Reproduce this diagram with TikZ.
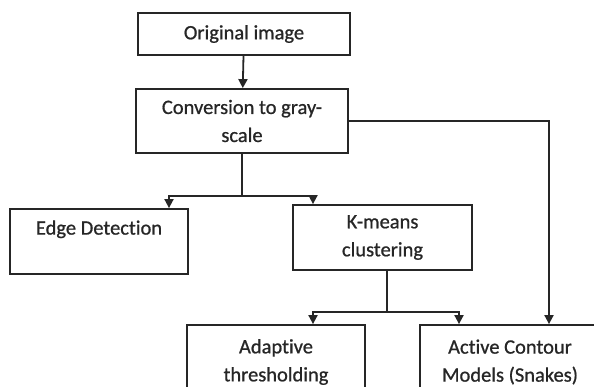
\documentclass[tikz,border=0pt]{standalone}
\usepackage{fontspec}
\setmainfont{Carlito}[Ligatures=CommonOff, FakeBold=0.8, BoldFont=Carlito]
\usetikzlibrary{arrows.meta}

\begin{document}
\begin{tikzpicture}[x=1pt, y=-1pt,
  procbox/.style={rectangle, draw=black!85, text=black!85, line width=1.8pt, align=center, inner sep=0pt, font=\fontsize{20.5}{28}\selectfont\bfseries},
  link/.style={draw=black!85, line width=1.8pt},
  flow/.style={link, -{Triangle[width=9pt,length=9pt]}}]
\useasboundingbox (0,0) rectangle (594,387);
\clip (0,0) rectangle (594,387);
\node[procbox, minimum width=212pt, minimum height=42pt] (orig) at (244,34) {Original image};
\node[procbox, minimum width=212pt, minimum height=64pt] (gray) at (242,121) {Conversion to gray-\\scale};
\node[procbox, minimum width=178pt, minimum height=65pt] (edge) at (99,241.5) {Edge Detection\\\mbox{}};
\node[procbox, minimum width=179pt, minimum height=65pt] (kmeans) at (382.5,237.5) {K-means\\clustering};
\node[procbox, minimum width=178pt, minimum height=74pt] (adapt) at (276,362) {Adaptive\\thresholding};
\node[procbox, minimum width=180pt, minimum height=74pt] (active) at (510,362) {Active Contour\\Models (Snakes)};
\coordinate (split1) at (242,196);
\coordinate (split2) at (387,312);
\draw[flow] (orig) -- (gray);
\draw[link] (gray.south) -- (split1);
\draw[flow] (split1) -| ([xshift=70pt]edge.north);
\draw[flow] (split1) -| ([xshift=-69.5pt]kmeans.north);
\draw[link] ([xshift=4.5pt]kmeans.south) -- (split2);
\draw[flow] (split2) -| ([xshift=37pt]adapt.north);
\draw[flow] (split2) -| ([xshift=-51pt]active.north);
\draw[flow] (gray.east) -| ([xshift=39pt]active.north);
\end{tikzpicture}
\end{document}
